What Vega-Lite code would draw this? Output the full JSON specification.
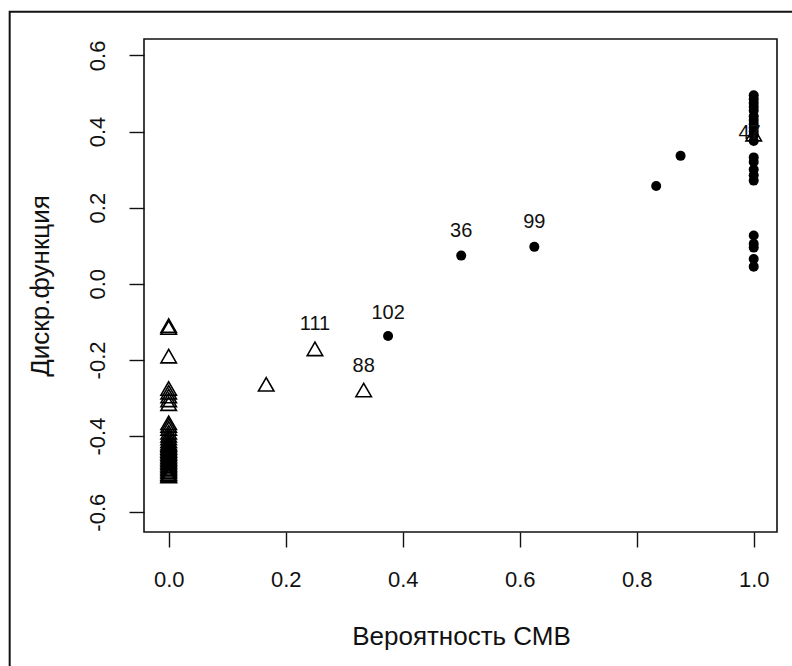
{
  "$schema": "https://vega.github.io/schema/vega-lite/v6.json",
  "width": 633,
  "height": 493,
  "autosize": {"type": "none"},
  "padding": {"left": 144, "top": 39, "right": 15, "bottom": 134},
  "background": "white",
  "config": {
    "view": {"stroke": "#111", "strokeWidth": 1.6},
    "font": "Liberation Sans",
    "axis": {
      "domain": false,
      "grid": false,
      "tickSize": 15,
      "tickColor": "#111",
      "tickWidth": 1.4,
      "labelFont": "Liberation Sans",
      "labelFontSize": 22,
      "labelColor": "#111",
      "titleFont": "Liberation Sans",
      "titleFontSize": 26,
      "titleFontWeight": "normal",
      "titleColor": "#111"
    }
  },
  "datasets": {
    "pts": [
      {"p": 0, "d": -0.11, "g": "non"},
      {"p": 0, "d": -0.115, "g": "non"},
      {"p": 0, "d": -0.19, "g": "non"},
      {"p": 0, "d": -0.275, "g": "non"},
      {"p": 0, "d": -0.285, "g": "non"},
      {"p": 0, "d": -0.295, "g": "non"},
      {"p": 0, "d": -0.305, "g": "non"},
      {"p": 0, "d": -0.315, "g": "non"},
      {"p": 0, "d": -0.365, "g": "non"},
      {"p": 0, "d": -0.372, "g": "non"},
      {"p": 0, "d": -0.38, "g": "non"},
      {"p": 0, "d": -0.39, "g": "non"},
      {"p": 0, "d": -0.398, "g": "non"},
      {"p": 0, "d": -0.405, "g": "non"},
      {"p": 0, "d": -0.412, "g": "non"},
      {"p": 0, "d": -0.418, "g": "non"},
      {"p": 0, "d": -0.422, "g": "non"},
      {"p": 0, "d": -0.426, "g": "non"},
      {"p": 0, "d": -0.43, "g": "non"},
      {"p": 0, "d": -0.434, "g": "non"},
      {"p": 0, "d": -0.438, "g": "non"},
      {"p": 0, "d": -0.442, "g": "non"},
      {"p": 0, "d": -0.446, "g": "non"},
      {"p": 0, "d": -0.45, "g": "non"},
      {"p": 0, "d": -0.454, "g": "non"},
      {"p": 0, "d": -0.458, "g": "non"},
      {"p": 0, "d": -0.462, "g": "non"},
      {"p": 0, "d": -0.466, "g": "non"},
      {"p": 0, "d": -0.47, "g": "non"},
      {"p": 0, "d": -0.474, "g": "non"},
      {"p": 0, "d": -0.478, "g": "non"},
      {"p": 0, "d": -0.482, "g": "non"},
      {"p": 0, "d": -0.486, "g": "non"},
      {"p": 0, "d": -0.49, "g": "non"},
      {"p": 0, "d": -0.494, "g": "non"},
      {"p": 0, "d": -0.498, "g": "non"},
      {"p": 0, "d": -0.502, "g": "non"},
      {"p": 0, "d": -0.505, "g": "non"},
      {"p": 0.1667, "d": -0.264, "g": "non"},
      {"p": 0.25, "d": -0.171, "g": "non"},
      {"p": 0.3333, "d": -0.279, "g": "non"},
      {"p": 1, "d": 0.393, "g": "non"},
      {"p": 0.375, "d": -0.137, "g": "cmv"},
      {"p": 0.5, "d": 0.074, "g": "cmv"},
      {"p": 0.625, "d": 0.097, "g": "cmv"},
      {"p": 0.8333, "d": 0.257, "g": "cmv"},
      {"p": 0.875, "d": 0.336, "g": "cmv"},
      {"p": 1, "d": 0.495, "g": "cmv"},
      {"p": 1, "d": 0.485, "g": "cmv"},
      {"p": 1, "d": 0.475, "g": "cmv"},
      {"p": 1, "d": 0.465, "g": "cmv"},
      {"p": 1, "d": 0.455, "g": "cmv"},
      {"p": 1, "d": 0.44, "g": "cmv"},
      {"p": 1, "d": 0.43, "g": "cmv"},
      {"p": 1, "d": 0.42, "g": "cmv"},
      {"p": 1, "d": 0.41, "g": "cmv"},
      {"p": 1, "d": 0.4, "g": "cmv"},
      {"p": 1, "d": 0.39, "g": "cmv"},
      {"p": 1, "d": 0.375, "g": "cmv"},
      {"p": 1, "d": 0.332, "g": "cmv"},
      {"p": 1, "d": 0.32, "g": "cmv"},
      {"p": 1, "d": 0.3, "g": "cmv"},
      {"p": 1, "d": 0.285, "g": "cmv"},
      {"p": 1, "d": 0.271, "g": "cmv"},
      {"p": 1, "d": 0.127, "g": "cmv"},
      {"p": 1, "d": 0.105, "g": "cmv"},
      {"p": 1, "d": 0.095, "g": "cmv"},
      {"p": 1, "d": 0.065, "g": "cmv"},
      {"p": 1, "d": 0.045, "g": "cmv"}
    ],
    "labs": [
      {"p": 0.25, "d": -0.106, "t": "111"},
      {"p": 0.3333, "d": -0.217, "t": "88"},
      {"p": 0.375, "d": -0.0775, "t": "102"},
      {"p": 0.5, "d": 0.139, "t": "36"},
      {"p": 0.625, "d": 0.161, "t": "99"},
      {"p": 0.993, "d": 0.396, "t": "47"}
    ]
  },
  "layer": [
    {
      "data": {"values": [{}]},
      "mark": {"type": "rect", "clip": false, "fill": null, "stroke": "#111", "strokeWidth": 2},
      "encoding": {
        "x": {"datum": -0.2718, "type": "quantitative", "scale": {"domain": [-0.0422, 1.0398], "nice": false, "zero": false}},
        "x2": {"datum": 1.12},
        "y": {"datum": 0.7146, "type": "quantitative", "scale": {"domain": [-0.652, 0.643], "nice": false, "zero": false}},
        "y2": {"datum": -1.2}
      }
    },
    {
      "data": {"name": "pts"},
      "transform": [{"filter": "datum.g === 'cmv'"}],
      "mark": {"type": "point", "shape": "circle", "filled": true, "fill": "#000", "size": 100, "opacity": 1, "strokeWidth": 0},
      "encoding": {
        "x": {"field": "p", "type": "quantitative", "scale": {"domain": [-0.0422, 1.0398], "nice": false, "zero": false},
          "axis": {"values": [0, 0.2, 0.4, 0.6, 0.8, 1.0], "format": ".1f", "title": "Вероятность СМВ", "labelPadding": 22, "labelBaseline": "top", "titleX": 317, "titleY": 104, "titleBaseline": "middle", "titleAlign": "center"}},
        "y": {"field": "d", "type": "quantitative", "scale": {"domain": [-0.652, 0.643], "nice": false, "zero": false},
          "axis": {"values": [-0.6, -0.4, -0.2, 0, 0.2, 0.4, 0.6], "labelExpr": "replace(format(datum.value, '.1f'), '−', '-')", "labelAngle": -90, "labelAlign": "center", "labelBaseline": "alphabetic", "labelPadding": 25, "title": "Дискр.функция", "titleX": -104, "titleY": 246.5, "titleAngle": -90, "titleBaseline": "middle", "titleAlign": "center"}}
      }
    },
    {
      "data": {"name": "pts"},
      "transform": [{"filter": "datum.g === 'non'"}],
      "mark": {"type": "point", "shape": "triangle-up", "filled": false, "stroke": "#000", "strokeWidth": 1.6, "size": 240, "opacity": 1},
      "encoding": {
        "x": {"field": "p", "type": "quantitative"},
        "y": {"field": "d", "type": "quantitative"}
      }
    },
    {
      "data": {"name": "labs"},
      "mark": {"type": "text", "font": "Liberation Sans", "fontSize": 20, "color": "#111", "baseline": "middle", "align": "center"},
      "encoding": {
        "x": {"field": "p", "type": "quantitative"},
        "y": {"field": "d", "type": "quantitative"},
        "text": {"field": "t"}
      }
    }
  ]
}
